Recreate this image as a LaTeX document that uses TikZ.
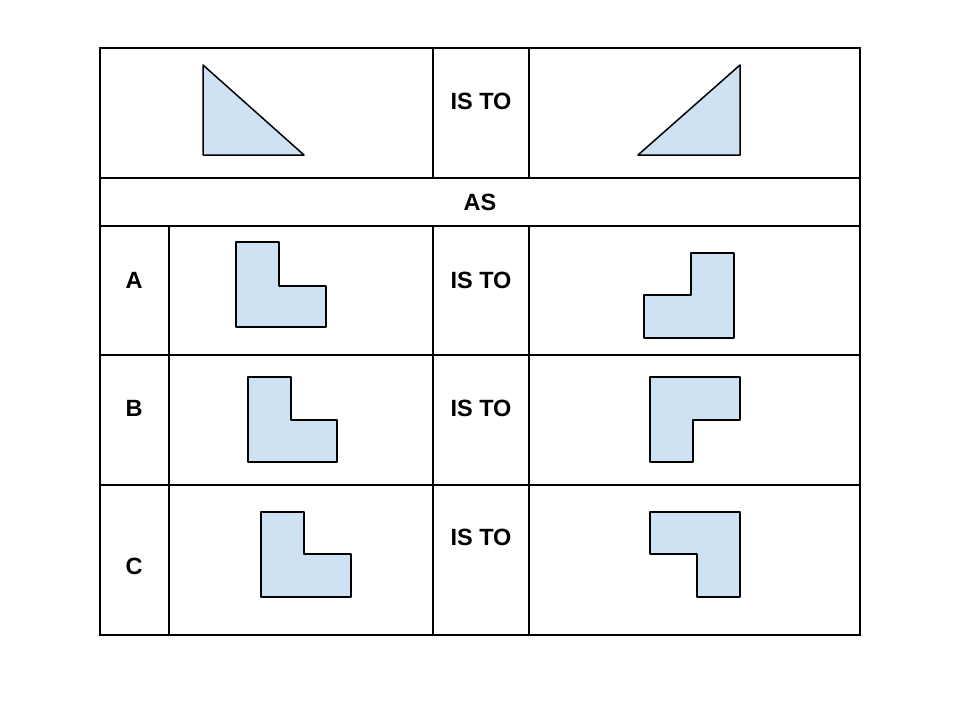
\documentclass[tikz,border=0pt]{standalone}
\usepackage{fontspec}
\setmainfont{Liberation Sans}
\begin{document}
\begin{tikzpicture}[
        x=1pt, y=-1pt,
        grid-ln/.style = {draw, line width=1.5pt},
        shp/.style = {draw, line width=1.5pt, fill=shpblue, line join=round},
        lbl/.style = {font=\bfseries\fontsize{23.5}{27}\selectfont, inner sep=0pt}
      ]
        \definecolor{shpblue}{HTML}{CFE2F3}
        \useasboundingbox (0,0) rectangle (960,720);

        % table frame and rules
        \draw[grid-ln] (100,48) rectangle (860,635);
        \draw[grid-ln] (100,178) -- (860,178);
        \draw[grid-ln] (100,226) -- (860,226);
        \draw[grid-ln] (100,355) -- (860,355);
        \draw[grid-ln] (100,485) -- (860,485);
        \draw[grid-ln] (433,48) -- (433,178);
        \draw[grid-ln] (529,48) -- (529,178);
        \draw[grid-ln] (169,226) -- (169,635);
        \draw[grid-ln] (433,226) -- (433,635);
        \draw[grid-ln] (529,226) -- (529,635);

        % texts
        \node[lbl] (is0) at (481,101) {IS TO};
        \node[lbl] (as) at (480,202) {AS};
        \node[lbl] (a) at (134,280) {A};
        \node[lbl] (isa) at (481,280) {IS TO};
        \node[lbl] (b) at (134,408) {B};
        \node[lbl] (isb) at (481,408) {IS TO};
        \node[lbl] (c) at (134,566) {C};
        \node[lbl] (isc) at (481,537) {IS TO};

        % triangles
        \draw[shp] (203,65) -- (304,155) -- (203,155) -- cycle;
        \draw[shp] (740,65) -- (740,155) -- (638,155) -- cycle;

        % row A
        \draw[shp] (236,242) -- (279,242) -- (279,286) -- (326,286) -- (326,327) -- (236,327) -- cycle;
        \draw[shp] (691,253) -- (734,253) -- (734,338) -- (644,338) -- (644,295) -- (691,295) -- cycle;

        % row B
        \draw[shp] (248,377) -- (291,377) -- (291,420) -- (337,420) -- (337,462) -- (248,462) -- cycle;
        \draw[shp] (650,377) -- (740,377) -- (740,420) -- (693,420) -- (693,462) -- (650,462) -- cycle;

        % row C
        \draw[shp] (261,512) -- (304,512) -- (304,554) -- (351,554) -- (351,597) -- (261,597) -- cycle;
        \draw[shp] (650,512) -- (740,512) -- (740,597) -- (697,597) -- (697,554) -- (650,554) -- cycle;
      \end{tikzpicture}
\end{document}
